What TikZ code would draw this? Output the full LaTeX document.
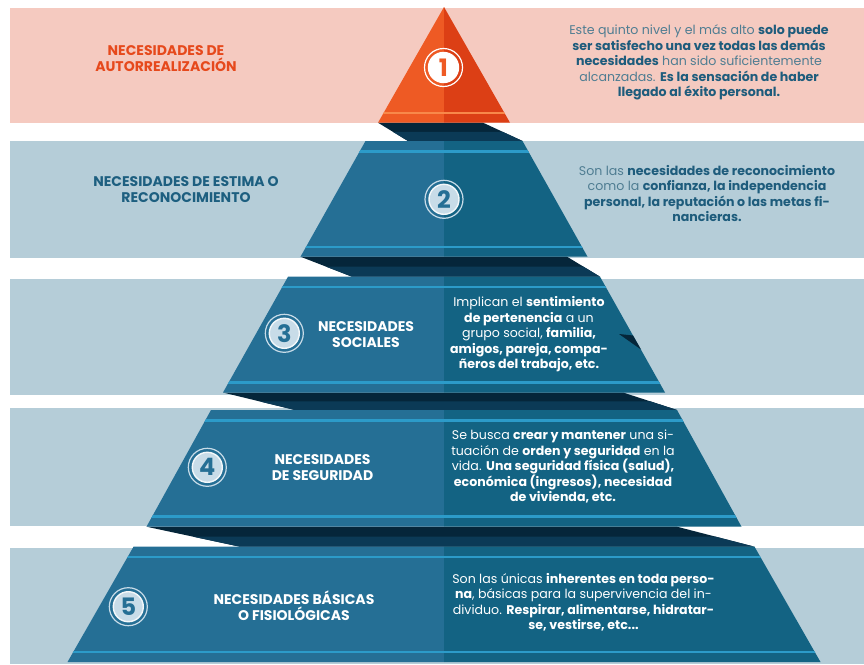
\documentclass[tikz,border=0pt]{standalone}
\usepackage{fontspec}
\setmainfont{Poppins}
\usetikzlibrary{calc}

\definecolor{bandpink}{HTML}{F5CAC0}
\definecolor{bandblue}{HTML}{B5CDD8}
\definecolor{orangeL}{HTML}{EE5A24}
\definecolor{orangeR}{HTML}{DC3F15}
\definecolor{orangeline}{HTML}{F8884A}
\definecolor{blueL}{HTML}{256F95}
\definecolor{blueR}{HTML}{136383}
\definecolor{blueline}{HTML}{2C9BC9}
\definecolor{shadowtop}{HTML}{05263A}
\definecolor{shadowbot}{HTML}{0B3A56}
\definecolor{labelred}{HTML}{E6491C}
\definecolor{labelblue}{HTML}{1D5F80}
\definecolor{textgray}{HTML}{4F7D92}
\definecolor{textdark}{HTML}{1E5C7C}
\definecolor{discblue}{HTML}{C8DCE8}

\tikzstyle{shadow} = [fill=shadowtop]
\tikzstyle{shadowlow} = [fill=shadowbot]
\tikzstyle{levellabel} = [font=\fontsize{14}{16}\selectfont\bfseries, align=center, inner sep=0pt]
\tikzstyle{desc} = [font=\fontsize{12.6}{15.5}\selectfont, align=center, inner sep=0pt]
\tikzstyle{badge} = [circle, minimum size=30pt, inner sep=0pt, line width=1.4pt, font=\fontsize{24}{24}\selectfont\bfseries]
\tikzstyle{ring} = [line width=1.2pt]

\newcommand{\dk}[1]{{\color{textdark}\bfseries #1}}

\begin{document}
\begin{tikzpicture}[x=1pt,y=-1pt]
\useasboundingbox (0,0) rectangle (864,664);

% bands
\path[fill=bandpink] (10,8) rectangle (864,122.7);
\path[fill=bandblue] (10,141) rectangle (864,258);
\path[fill=bandblue] (10,279) rectangle (864,395);
\path[fill=bandblue] (10,408.3) rectangle (864,525.5);
\path[fill=bandblue] (10,547.5) rectangle (864,664);

% dark turns between the levels
\path[shadow] (378,122.7) -- (483,122.7) -- (522.5,141) -- (408,141) -- cycle;
\path[shadowlow] (393,131.85) -- (502.75,131.85) -- (522.5,141) -- (408,141) -- cycle;
\path[shadow] (300.5,256.7) -- (567,256.7) -- (600,276.7) -- (352,276.7) -- cycle;
\path[shadowlow] (326.25,266.7) -- (583.5,266.7) -- (600,276.7) -- (352,276.7) -- cycle;
\path[shadow] (223,392.5) -- (623,392.5) -- (677,410) -- (295,410) -- cycle;
\path[shadowlow] (259,401.25) -- (650,401.25) -- (677,410) -- (295,410) -- cycle;
\path[shadow] (146.5,526.7) -- (677,526.7) -- (754.5,546.7) -- (240,546.7) -- cycle;
\path[shadowlow] (193.25,536.7) -- (715.75,536.7) -- (754.5,546.7) -- (240,546.7) -- cycle;

% level 1
\path[fill=orangeL] (444,7) -- (444,122.7) -- (378,122.7) -- cycle;
\path[fill=orangeR] (444,7) -- (510,122.7) -- (444,122.7) -- cycle;
\begin{scope}
  \clip (444,7) -- (510,122.7) -- (378,122.7) -- cycle;
  \fill[orangeline] (0,111.5) rectangle (864,114);
\end{scope}

% level 2
\path[fill=blueL] (365.5,141) -- (444,141) -- (444,256.7) -- (300.5,256.7) -- cycle;
\path[fill=blueR] (444,141) -- (522.5,141) -- (587.5,256.7) -- (444,256.7) -- cycle;
\begin{scope}
  \clip (365.5,141) -- (522.5,141) -- (587.5,256.7) -- (300.5,256.7) -- cycle;
  \fill[blueline] (0,150) rectangle (864,152.5);
  \fill[blueline] (0,245.5) rectangle (864,248);
\end{scope}

% level 3
\path[fill=blueL] (288,276.7) -- (444,276.7) -- (444,392.5) -- (223,392.5) -- cycle;
\path[fill=blueR] (444,276.7) -- (600,276.7) -- (665,392.5) -- (444,392.5) -- cycle;
\begin{scope}
  \clip (288,276.7) -- (600,276.7) -- (665,392.5) -- (223,392.5) -- cycle;
  \fill[blueline] (0,285.7) rectangle (864,288.2);
  \fill[blueline] (0,381) rectangle (864,383.5);
\end{scope}
\path[shadow] (619,334) -- (633,335.5) -- (641,349.5) -- cycle;

% level 4
\path[fill=blueL] (211,410) -- (444,410) -- (444,526.7) -- (146.5,526.7) -- cycle;
\path[fill=blueR] (444,410) -- (677,410) -- (741.5,526.7) -- (444,526.7) -- cycle;
\begin{scope}
  \clip (211,410) -- (677,410) -- (741.5,526.7) -- (146.5,526.7) -- cycle;
  \fill[blueline] (0,419) rectangle (864,421.5);
  \fill[blueline] (0,515.2) rectangle (864,517.7);
\end{scope}

% level 5
\path[fill=blueL] (133.5,546.7) -- (444,546.7) -- (444,662) -- (67.5,662) -- cycle;
\path[fill=blueR] (444,546.7) -- (754.5,546.7) -- (820.5,662) -- (444,662) -- cycle;
\begin{scope}
  \clip (133.5,546.7) -- (754.5,546.7) -- (820.5,662) -- (67.5,662) -- cycle;
  \fill[blueline] (0,555.7) rectangle (864,558.2);
  \fill[blueline] (0,650.5) rectangle (864,653);
\end{scope}

% number badges
\node[badge, fill=white, draw=white, text=orangeL] (num1) at (443.5,67.5) {1};
\draw[ring, white] (num1.center) circle[radius=19pt];
\node[badge, fill=discblue, draw=white!80!discblue, text=blueL] (num2) at (444,199.3) {2};
\draw[ring, discblue] (num2.center) circle[radius=19pt];
\node[badge, fill=discblue, draw=white!80!discblue, text=blueL] (num3) at (284.3,333.3) {3};
\draw[ring, discblue] (num3.center) circle[radius=19pt];
\node[badge, fill=discblue, draw=white!80!discblue, text=blueL] (num4) at (207.3,467.3) {4};
\draw[ring, discblue] (num4.center) circle[radius=19pt];
\node[badge, fill=discblue, draw=white!80!discblue, text=blueL] (num5) at (128.3,606.7) {5};
\draw[ring, discblue] (num5.center) circle[radius=19pt];

% level names
\node[levellabel, text=labelred] (lbl1) at (166,58.8) {NECESIDADES DE\\AUTORREALIZACIÓN};
\node[levellabel, text=labelblue] (lbl2) at (186,189.2) {NECESIDADES DE ESTIMA O\\RECONOCIMIENTO};
\node[levellabel, text=white] (lbl3) at (366,334.7) {NECESIDADES\\SOCIALES};
\node[levellabel, text=white] (lbl4) at (322.5,467.2) {NECESIDADES\\DE SEGURIDAD};
\node[levellabel, text=white] (lbl5) at (294,605.8) {NECESIDADES BÁSICAS\\O FISIOLÓGICAS};

% descriptions
\node[desc, text=textgray] (desc1) at (699,62.5) {Este quinto nivel y el más alto \dk{solo puede}\\
  \dk{ser satisfecho una vez todas las demás}\\
  \dk{necesidades} han sido suficientemente\\
  alcanzadas. \dk{Es la sensación de haber}\\
  \dk{llegado al éxito personal.}};
\node[desc, text=textgray] (desc2) at (707,193.7) {Son las \dk{necesidades de reconocimiento}\\
  como la \dk{confianza, la independencia}\\
  \dk{personal, la reputación o las metas fi-}\\
  \dk{nancieras.}};
\node[desc, text=white] (desc3) at (529,334.5) {Implican el \textbf{sentimiento}\\
  \textbf{de pertenencia} a un\\
  grupo social, \textbf{familia,}\\
  \textbf{amigos, pareja, compa-}\\
  \textbf{ñeros del trabajo, etc.}};
\node[desc, text=white] (desc4) at (563,467) {Se busca \textbf{crear y mantener} una si-\\
  tuación de \textbf{orden y seguridad} en la\\
  vida. \textbf{Una seguridad física (salud),}\\
  \textbf{económica (ingresos), necesidad}\\
  \textbf{de vivienda, etc.}};
\node[desc, text=white] (desc5) at (583.5,602.5) {Son las únicas \textbf{inherentes en toda perso-}\\
  \textbf{na}, básicas para la supervivencia del in-\\
  dividuo. \textbf{Respirar, alimentarse, hidratar-}\\
  \textbf{se, vestirse, etc...}};

\end{tikzpicture}
\end{document}
